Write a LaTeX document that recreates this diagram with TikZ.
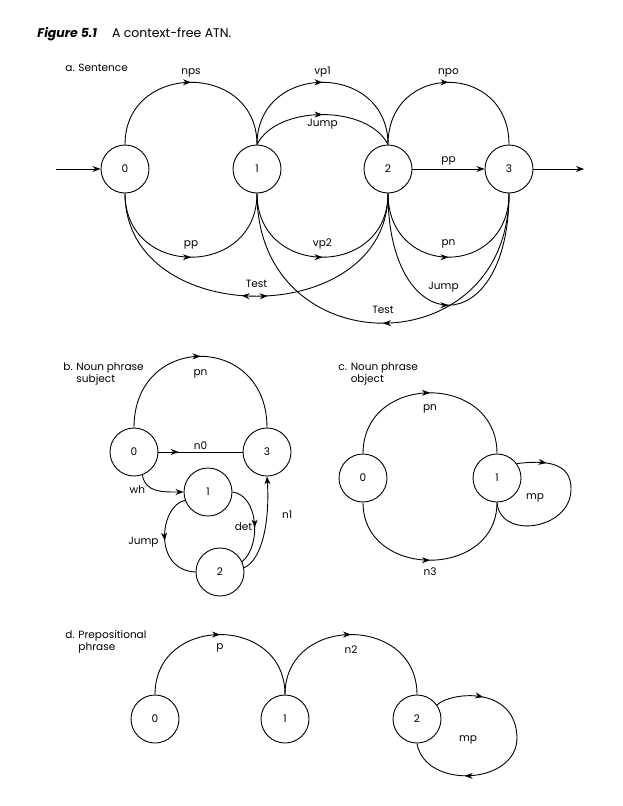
\documentclass[tikz,border=0pt]{standalone}
\usepackage{fontspec}
\setmainfont{Poppins}
\usetikzlibrary{arrows.meta,positioning,decorations.markings}
\newcommand\lblfont{\fontsize{10.5}{12.5}\selectfont}

\begin{document}
\begin{tikzpicture}[x=1pt,y=-1pt,line width=0.9pt,
  >={Stealth[length=8pt,width=6pt]},
  state/.style={draw,circle,minimum size=48pt,inner sep=0pt,font=\lblfont},
  lbl/.style={font=\lblfont,inner sep=1pt},
  ttl/.style={font=\lblfont,align=left,anchor=north west,inner sep=0pt},
  arr/.style={->},
  mid/.style={postaction={decorate},decoration={markings,
      mark=at position #1 with {\arrow{>}}}}]
\useasboundingbox (0,0) rectangle (622,806);
\node[anchor=base west,inner sep=0pt,font=\fontsize{12.5}{14}\selectfont] (fig) at (37,37) {\bfseries\itshape Figure 5.1};
\node[base right=14pt of fig,inner sep=0pt,font=\fontsize{12.5}{14}\selectfont] (cap) {A context-free ATN.};

\node[ttl] (ta) at (65,64) {a. Sentence};
\node[state] (a0) at (125,169) {0};
\node[state] (a1) at (257,169) {1};
\node[state] (a2) at (388,169) {2};
\node[state] (a3) at (509,169) {3};
\coordinate (ain) at (56,169);
\coordinate (aout) at (584,169);
\draw[arr] (ain) -- (a0);
\draw[arr] (a3) -- (aout);
\draw[arr] (a2) -- node[lbl,above=2pt]{pp} (a3);
\draw[mid=0.5] (a0.north) .. controls +(0,-83) and +(0,-83) .. node[lbl,above=4pt]{nps} (a1.north);
\draw[mid=0.5] (a1.north) .. controls +(0,-83) and +(0,-83) .. node[lbl,above=4pt]{vp1} (a2.north);
\draw[mid=0.5] (a1.north) .. controls +(20,-40) and +(-20,-40) .. node[lbl,below=3pt]{Jump} (a2.north);
\draw[mid=0.5] (a2.north) .. controls +(0,-83) and +(0,-83) .. node[lbl,above=4pt]{npo} (a3.north);
\draw[mid=0.5] (a0.south) .. controls +(0,85) and +(0,85) .. node[lbl,above=7pt]{pp} (a1.south);
\draw[mid=0.5] (a1.south) .. controls +(0,85) and +(0,85) .. node[lbl,above=7pt]{vp2} (a2.south);
\draw[mid=0.5] (a2.south) .. controls +(0,85) and +(0,85) .. node[lbl,above=8pt]{pn} (a3.south);
\draw[postaction={decorate},decoration={markings,
      mark=at position 0.46 with {\arrowreversed{>}},
      mark=at position 0.53 with {\arrow{>}}}]
  (a0.south) .. controls +(0,137) and +(0,137) .. node[lbl,above=7pt]{Test} (a2.south);
\draw[mid=0.5] (a2.south) .. controls +(0,149) and +(0,149) .. node[lbl,above=12pt,xshift=-5pt]{Jump} (a3.south);
\draw[mid=0.5] (a3.south) .. controls +(0,173) and +(0,173) .. node[lbl,above=8pt]{Test} (a1.south);

\node[ttl] (tb) at (63,362) {b. Noun phrase\\\phantom{b. }subject};
\node[state] (b0) at (134,452) {0};
\node[state] (b3) at (267,452) {3};
\node[state] (b1) at (208,492) {1};
\node[state] (b2) at (220,572) {2};
\draw[mid=0.5] (b0.north) .. controls +(0,-95) and +(0,-95) .. node[lbl,below=12pt]{pn} (b3.north);
\draw[mid=0.24] (b0) -- node[lbl,above=1pt]{n0} (b3);
\draw[arr] (b0.-70) .. controls +(3,18) and +(-20,0) .. node[lbl,pos=0.45,left=8pt]{wh} (b1.west);
\draw[mid=0.5] (b1.200) .. controls (160,505) and (152,570) .. node[lbl,pos=0.55,left=5pt]{Jump} (b2.west);
\draw[mid=0.55] (b1.east) .. controls (258,495) and (262,545) .. node[lbl,pos=0.55,left=1pt]{det} (b2.25);
\draw[arr] (b2.10) .. controls +(18,-8) and +(3,45) .. node[lbl,pos=0.7,right=14pt]{n1} (b3.south);

\node[ttl] (tc) at (338,362) {c. Noun phrase\\\phantom{c. }object};
\node[state] (c0) at (363,478) {0};
\node[state] (c1) at (497,478) {1};
\draw[mid=0.5] (c0.north) .. controls +(0,-81) and +(0,-81) .. node[lbl,below=10pt]{pn} (c1.north);
\draw[mid=0.5] (c0.south) .. controls +(0,77) and +(0,77) .. node[lbl,below=6pt]{n3} (c1.south);
\draw[mid=0.17] (c1.36) .. controls (545,460) and (572,462) .. (571,490)
  .. controls (570,530) and (500,540) .. (c1.south);
\node[lbl] (cmp) at (535,498) {mp};

\node[ttl] (td) at (65,630) {d. Prepositional\\\phantom{d. }phrase};
\node[state] (d0) at (155,719) {0};
\node[state] (d1) at (285,719) {1};
\node[state] (d2) at (417,719) {2};
\draw[mid=0.5] (d0.north) .. controls +(0,-80) and +(0,-80) .. node[lbl,below=8pt]{p} (d1.north);
\draw[mid=0.5] (d1.north) .. controls +(0,-80) and +(0,-80) .. node[lbl,below=10pt]{n2} (d2.north);
\draw[postaction={decorate},decoration={markings,
      mark=at position 0.2 with {\arrow{>}},
      mark=at position 0.74 with {\arrow{>}}}]
  (d2.35) .. controls (450,692) and (515,685) .. (517,737)
  .. controls (518,785) and (425,790) .. (d2.south);
\node[lbl] (dmp) at (468,740) {mp};
\end{tikzpicture}
\end{document}
